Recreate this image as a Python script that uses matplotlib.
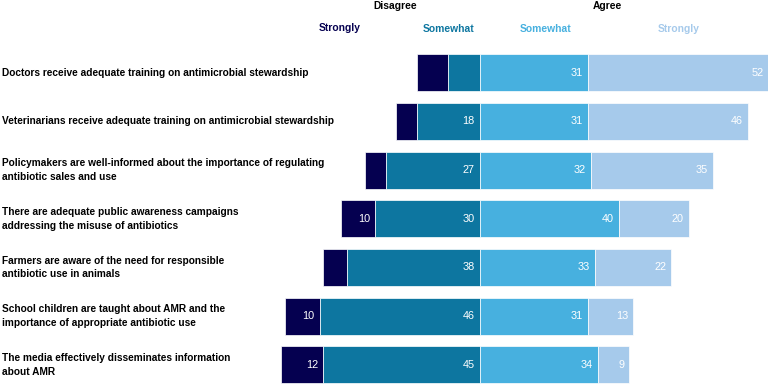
import matplotlib
matplotlib.use("Agg")
import matplotlib.pyplot as plt

# Survey statements, top to bottom
statements = [
    "Doctors receive adequate training on antimicrobial stewardship",
    "Veterinarians receive adequate training on antimicrobial stewardship",
    "Policymakers are well-informed about the importance of regulating\nantibiotic sales and use",
    "There are adequate public awareness campaigns\naddressing the misuse of antibiotics",
    "Farmers are aware of the need for responsible\nantibiotic use in animals",
    "School children are taught about AMR and the\nimportance of appropriate antibiotic use",
    "The media effectively disseminates information\nabout AMR",
]
strongly_disagree = [9, 6, 6, 10, 7, 10, 12]
somewhat_disagree = [9, 18, 27, 30, 38, 46, 45]
somewhat_agree = [31, 31, 32, 40, 33, 31, 34]
strongly_agree = [52, 46, 35, 20, 22, 13, 9]

c_sd = "#050050"
c_swd = "#0d76a0"
c_swa = "#47b0df"
c_sa = "#a6caeb"

label_font = "Liberation Sans"
num_font = "Liberation Sans"

fig = plt.figure(figsize=(7.68, 3.86), dpi=100)
ax = fig.add_axes([0, 0, 1, 1])

# pixel layout: zero line at x=479.7px, ~3.48 px per point; rows 48.7px apart
px_per_unit = 3.48
zero_px = 479.7
ax.set_xlim(-zero_px / px_per_unit, (768 - zero_px) / px_per_unit)
row_h = 48.7
first_row = 72.7
ax.set_ylim(6 + (386 - (first_row + 6 * row_h)) / row_h, -first_row / row_h)
ax.axis("off")

y = list(range(len(statements)))
h = 0.76
edge = dict(edgecolor="white", linewidth=0.5)

left_sd = [-(a + b) for a, b in zip(strongly_disagree, somewhat_disagree)]
left_swd = [-b for b in somewhat_disagree]
ax.barh(y, strongly_disagree, left=left_sd, height=h, color=c_sd, **edge)
ax.barh(y, somewhat_disagree, left=left_swd, height=h, color=c_swd, **edge)
ax.barh(y, somewhat_agree, left=0, height=h, color=c_swa, **edge)
ax.barh(y, strongly_agree, left=somewhat_agree, height=h, color=c_sa, **edge)

# value labels, right aligned inside each segment (only 10 and above)
pad = 1.4
for i in y:
    segs = [
        (strongly_disagree[i], left_sd[i] + strongly_disagree[i]),
        (somewhat_disagree[i], 0),
        (somewhat_agree[i], somewhat_agree[i]),
        (strongly_agree[i], somewhat_agree[i] + strongly_agree[i]),
    ]
    for val, right in segs:
        if val < 9 or (val == 9 and i == 0):
            continue
        ax.text(right - pad, i, str(val), ha="right", va="center",
                color="white", fontsize=7.8, family=num_font)

# statement labels on the left
for i, s in enumerate(statements):
    ax.text(1.5 / 768, i, s, transform=ax.get_yaxis_transform(),
            ha="left", va="center", fontsize=7.3, fontweight="bold",
            family=label_font, color="black", linespacing=1.45)

# column headers
hdr = dict(ha="center", va="center", fontsize=7.4, fontweight="bold", family=label_font)
fig.text(395 / 768, 1 - 6 / 386, "Disagree", color="black", **hdr)
fig.text(607 / 768, 1 - 6 / 386, "Agree", color="black", **hdr)
fig.text(340 / 768, 1 - 28 / 386, "Strongly", color=c_sd, **hdr)
fig.text(449 / 768, 1 - 29 / 386, "Somewhat", color=c_swd, **hdr)
fig.text(546 / 768, 1 - 29 / 386, "Somewhat", color=c_swa, **hdr)
fig.text(679 / 768, 1 - 29 / 386, "Strongly", color=c_sa, **hdr)

fig.savefig("out.png", dpi=100)
